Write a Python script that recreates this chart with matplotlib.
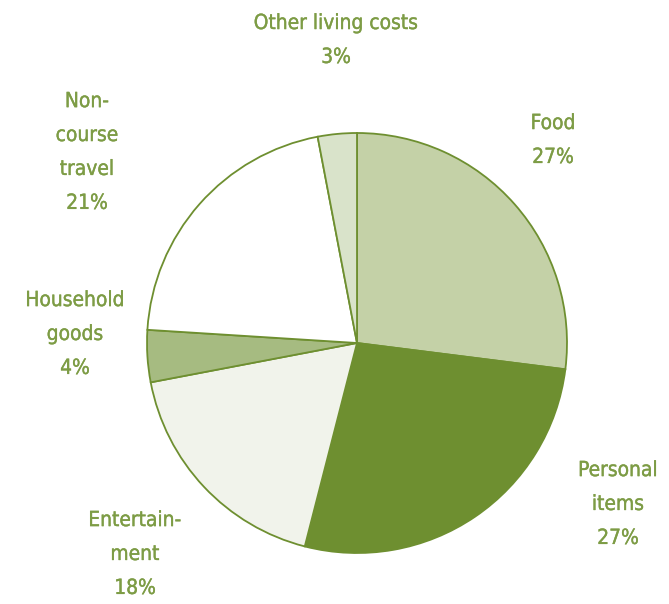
import matplotlib
matplotlib.use("Agg")
from matplotlib import pyplot as plt
import matplotlib.patheffects as pe

# living cost shares
categories = ["Food", "Personal items", "Entertainment", "Household goods",
              "Non-course travel", "Other living costs"]
shares = [27, 27, 18, 4, 21, 3]
label_text = ["Food", "Personal\nitems", "Entertain-\nment", "Household\ngoods",
              "Non-\ncourse\ntravel", "Other living costs"]

colors = ["#c4d1a7", "#6e8f30", "#f1f3eb", "#a6bb81", "#ffffff", "#d9e3ca"]
edge = "#6e8f30"
text_color = "#7d9c45"

# label anchor points (pixel coords from the top left)
label_pos = [(553, 140), (618, 504), (135, 554), (75, 334), (87, 152), (336, 40)]

W, H = 669, 604
fig = plt.figure(figsize=(W / 100, H / 100), dpi=100)
ax = fig.add_axes([0, 0, 1, 1])

ax.pie(shares, colors=colors, startangle=90, counterclock=False,
       center=(357, H - 343), radius=210, frame=True,
       wedgeprops=dict(edgecolor=edge, linewidth=1.3))
ax.set_xlim(0, W)
ax.set_ylim(0, H)
ax.set_aspect("equal")
ax.axis("off")

# a touch heavier than regular weight
heavier = [pe.withStroke(linewidth=0.25, foreground=text_color)]
for txt, val, (x, y) in zip(label_text, shares, label_pos):
    ax.text(x, H - y, f"{txt}\n{val}%", ha="center", va="center",
            fontsize=15, color=text_color, linespacing=1.87,
            family="DejaVu Sans", fontstretch="condensed", path_effects=heavier)

fig.savefig("out.png", dpi=100)
